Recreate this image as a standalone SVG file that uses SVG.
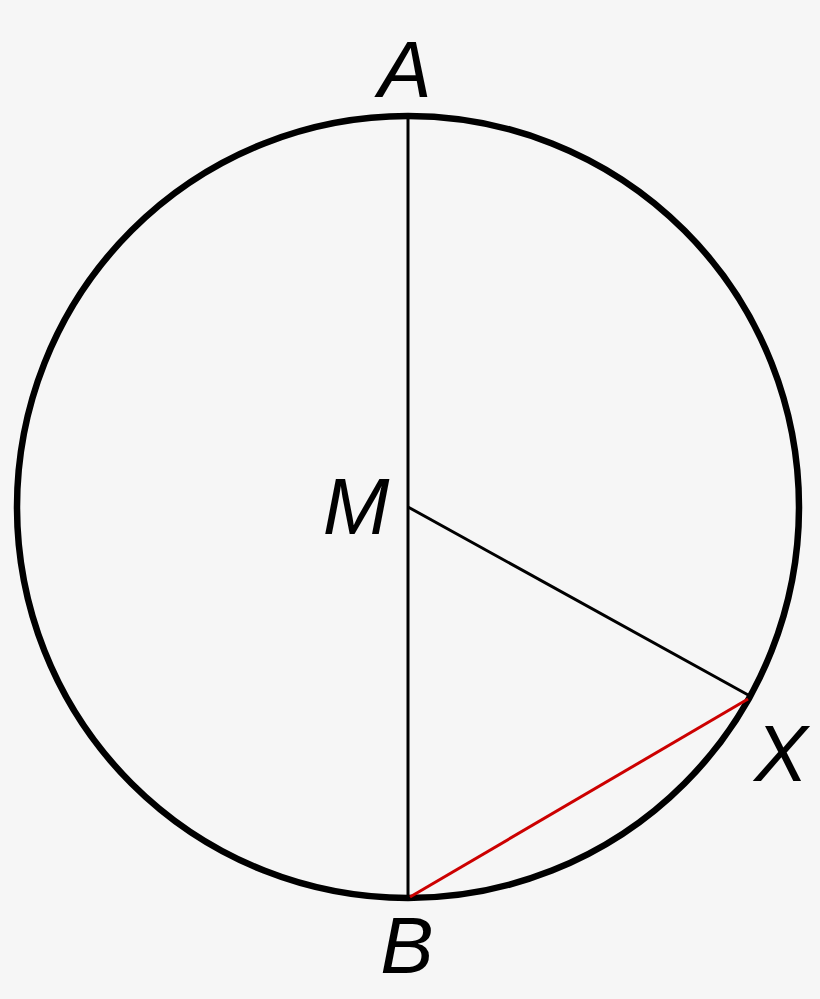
<svg xmlns="http://www.w3.org/2000/svg" width="820" height="999" viewBox="0 0 820 999">
<style>
.lbl{font-family:"Liberation Sans",Arial,sans-serif;font-style:italic;font-size:80px;fill:#000;text-anchor:middle}
.thin{stroke:#000;stroke-width:3;fill:none}
</style>
<rect width="820" height="999" fill="#f6f6f6"/>
<g id="circle"><circle cx="408" cy="507" r="391" fill="none" stroke="#000" stroke-width="6.5"/></g>
<g id="connectors">
<line class="thin" x1="408" y1="115" x2="408" y2="898"/>
<line class="thin" x1="408" y1="507" x2="750" y2="696"/>
<line x1="410" y1="897" x2="748" y2="699" stroke="#cc0000" stroke-width="3"/>
</g>
<g id="A"><text class="lbl" x="405" y="97">A</text></g>
<g id="M"><text class="lbl" x="356" y="534">M</text></g>
<g id="X"><text class="lbl" x="781" y="781">X</text></g>
<g id="B"><text class="lbl" x="407" y="973">B</text></g>
</svg>
